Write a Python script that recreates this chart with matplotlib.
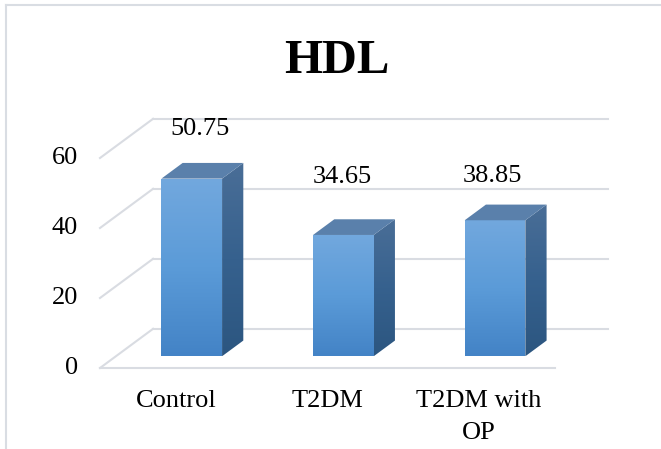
import numpy as np
import matplotlib
matplotlib.use("Agg")
import matplotlib.pyplot as plt
from matplotlib.patches import Polygon
from matplotlib.lines import Line2D
from matplotlib.colors import LinearSegmentedColormap

# ---- data ----
categories = ["Control", "T2DM", "T2DM with\nOP"]
hdl_values = [50.75, 34.65, 38.85]
y_ticks = [0, 20, 40, 60]
title = "HDL"

# ---- oblique 3-D look ----
DX, DY = 0.35, 11.2          # depth offset of the back wall (category units, value units)
BAR_W = 0.40                 # bar width (category units)
D0, D1 = 0.30, 0.70          # bar front / back as fractions of the depth
label_dx = [0.16, 0.10, 0.09]   # value-label nudges
label_dy = [17.5, 19.9, 16.1]

plt.rcParams["font.family"] = ["Liberation Serif", "DejaVu Serif"]

fig = plt.figure(figsize=(6.61, 4.49), dpi=100)
W, H = 661, 449
ax = fig.add_axes([100 / W, (H - 368) / H, 508 / W, 280 / H])
ax.set_xlim(-0.5, 2.5 + DX)
ax.set_ylim(0, 80)
ax.axis("off")

grid_c = "#d9dce2"
lw = 1.5
n = len(categories)
x0, x1 = -0.5, n - 0.5

# walls and floor
for v in y_ticks:
    ax.add_line(Line2D([x0, x0 + DX], [v, v + DY], color=grid_c, lw=lw, zorder=1, clip_on=False))
    ax.add_line(Line2D([x0 + DX, x1 + DX], [v + DY, v + DY], color=grid_c, lw=lw, zorder=1, clip_on=False))
ax.add_line(Line2D([x0, x1], [0, 0], color=grid_c, lw=lw, zorder=1, clip_on=False))

# y tick labels
for v in y_ticks:
    ax.text(x0 - 0.145, v, f"{v}", ha="right", va="center", fontsize=19, color="black")

front_cmap = LinearSegmentedColormap.from_list("front", ["#4383c6", "#5b9bd8", "#72a8de"])
side_cmap = LinearSegmentedColormap.from_list("side", ["#2c5680", "#36618e", "#4a6e97"])
top_color = "#5a80ab"
grad = np.linspace(0, 1, 256).reshape(-1, 1)


def shaded(poly_xy, cmap, ymin, ymax, xmin, xmax, z):
    poly = Polygon(poly_xy, closed=True, facecolor="none", edgecolor="none", zorder=z)
    ax.add_patch(poly)
    im = ax.imshow(grad, cmap=cmap, origin="lower", extent=[xmin, xmax, ymin, ymax],
                   aspect="auto", zorder=z, interpolation="bilinear")
    im.set_clip_path(poly)


for i, v in enumerate(hdl_values):
    fx0 = i - BAR_W / 2 + D0 * DX
    fx1 = i + BAR_W / 2 + D0 * DX
    fy0 = D0 * DY
    fy1 = v + D0 * DY
    ddx = (D1 - D0) * DX
    ddy = (D1 - D0) * DY
    # front face
    front = [(fx0, fy0), (fx1, fy0), (fx1, fy1), (fx0, fy1)]
    shaded(front, front_cmap, fy0, fy1, fx0, fx1, 3)
    # side face
    side = [(fx1, fy0), (fx1 + ddx, fy0 + ddy), (fx1 + ddx, fy1 + ddy), (fx1, fy1)]
    shaded(side, side_cmap, fy0, fy1 + ddy, fx1, fx1 + ddx, 3)
    # top face
    top = [(fx0, fy1), (fx1, fy1), (fx1 + ddx, fy1 + ddy), (fx0 + ddx, fy1 + ddy)]
    ax.add_patch(Polygon(top, closed=True, facecolor=top_color, edgecolor="none", zorder=4))
    # value label
    ax.text(i + label_dx[i], v + label_dy[i], f"{v:.2f}", ha="center", va="center",
            fontsize=19, color="black", zorder=5)
    # category label
    ax.text(i, -6.2, categories[i], ha="center", va="top", fontsize=19,
            color="black", linespacing=1.6, zorder=5)

ax.set_xlim(-0.5, 2.5 + DX)
ax.set_ylim(0, 80)

# title
fig.text(337 / W, 1 - 72.7 / H, title, ha="center", va="baseline", fontsize=35,
         fontweight="bold", color="black")

# chart frame
frame_c = "#d9dde3"
fig.add_artist(Line2D([6 / W, 6 / W], [0, 1 - 5 / H], color=frame_c, lw=1.5))
fig.add_artist(Line2D([6 / W, 1], [1 - 5 / H, 1 - 5 / H], color=frame_c, lw=1.5))

fig.savefig("out.png", dpi=100)
